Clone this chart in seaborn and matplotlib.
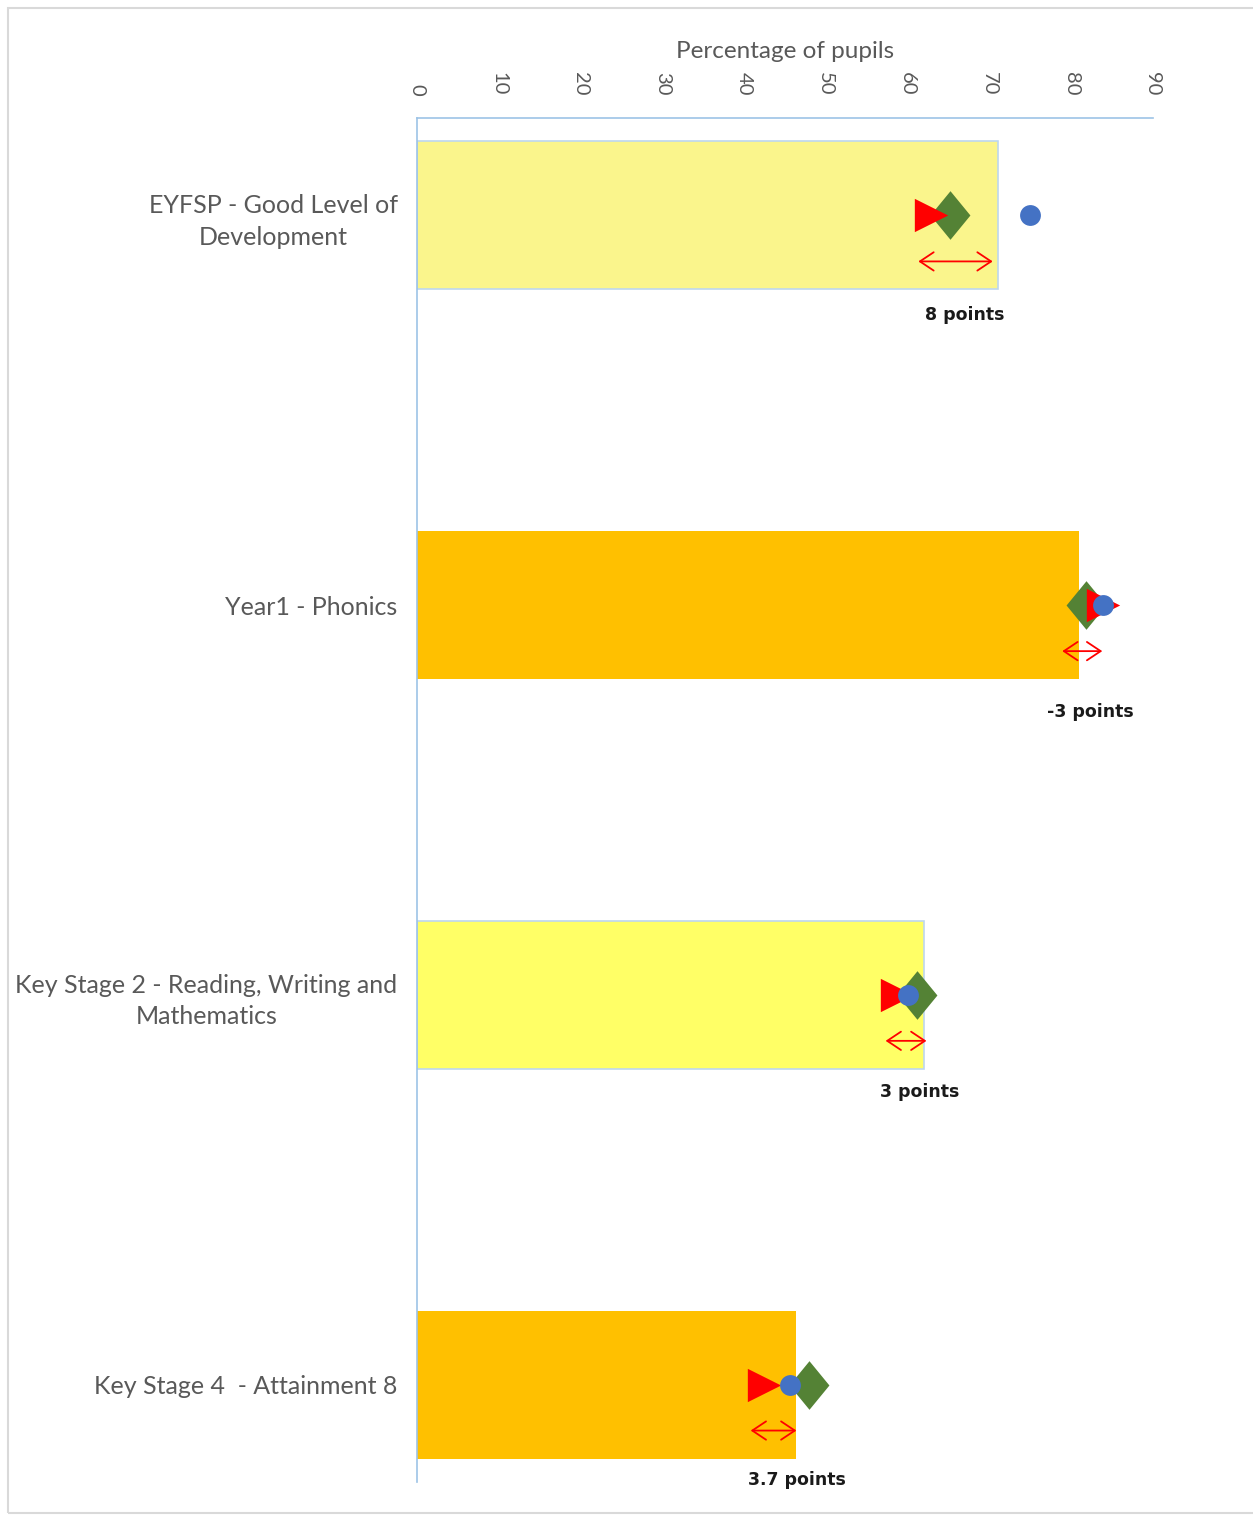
import numpy as np
import pandas as pd
import matplotlib
matplotlib.use("Agg")
import matplotlib.pyplot as plt
from matplotlib.patches import Rectangle
import seaborn as sns

# ---- data ----
categories = ["EYFSP - Good Level of\nDevelopment", "Year1 - Phonics",
              "Key Stage 2 - Reading, Writing and\nMathematics", "Key Stage 4  - Attainment 8"]
bar_values = [71.0, 81.0, 62.0, 46.3]
triangle_values = [62.8, 83.9, 58.7, 42.4]
diamond_values = [65.2, 81.8, 61.1, 47.9]
circle_values = [75.0, 83.9, 60.0, 45.6]
arrow_start = [61.3, 78.9, 57.3, 40.8]
arrow_end = [70.4, 83.8, 62.3, 46.4]
gap_labels = ["8 points", "-3 points", "3 points", "3.7 points"]
gap_label_x = [67.0, 82.3, 61.5, 46.4]
x_ticks = [0, 10, 20, 30, 40, 50, 60, 70, 80, 90]

bar_colors = ["#FAF58C", "#FFC000", "#FFFF66", "#FFC000"]

sns.set_theme(style="white")
plt.rcParams['font.family'] = ['Lato', 'DejaVu Sans']

fig = plt.figure(figsize=(12.53, 15.15), dpi=100)
ax = fig.add_axes([417/1253, 1 - 1482/1515, (1153-417)/1253, (1482-118)/1515])

df = pd.DataFrame({"cat": categories, "val": bar_values})
sns.barplot(data=df, y="cat", x="val", hue="cat", palette=bar_colors,
            orient="h", width=0.38, legend=False, ax=ax, saturation=1)
for i, p in enumerate(ax.patches):
    if bar_colors[i] != "#FFC000":
        p.set_edgecolor("#BDD7EE")
        p.set_linewidth(1.2)
    else:
        p.set_linewidth(0)

diamond_marker = [(0, 1), (0.82, 0), (0, -1), (-0.82, 0), (0, 1)]

pos = np.arange(len(categories))
ax.scatter(diamond_values, pos, marker=diamond_marker, s=35**2, color="#548235", zorder=3, linewidths=0)
ax.scatter(triangle_values, pos, marker=">", s=24**2, color="#FF0000", zorder=4, linewidths=0)
ax.scatter(circle_values, pos, marker="o", s=15**2, color="#4472C4", zorder=5, linewidths=0)

label_offsets = [0.255, 0.275, 0.25, 0.245]
for i in range(len(categories)):
    ax.annotate("", xy=(arrow_end[i], pos[i] + 0.118), xytext=(arrow_start[i], pos[i] + 0.118),
                arrowprops=dict(arrowstyle="<->, head_length=0.45, head_width=0.3", color="#FF0000", lw=1.3,
                                mutation_scale=22, shrinkA=0, shrinkB=0), zorder=6)
    ax.text(gap_label_x[i], pos[i] + label_offsets[i], gap_labels[i], ha="center", va="center",
            fontsize=12.5, fontweight="bold", color="#1a1a1a", family=["DejaVu Sans"])

ax.set_xlim(0, 90)
ax.set_ylim(3.25, -0.25)
ax.set_xticks(x_ticks)
ax.xaxis.tick_top()
ax.xaxis.set_label_position("top")
ax.set_xlabel("Percentage of pupils", fontsize=17.5, color="#595959", labelpad=10)
ax.set_ylabel("")
ax.tick_params(axis="x", length=0, pad=16, labelsize=14.5, labelcolor="#595959", labelrotation=-90)
ax.tick_params(axis="y", length=0, pad=14, labelsize=18, labelcolor="#595959")
for lbl in ax.get_yticklabels():
    lbl.set_multialignment("center")
    lbl.set_linespacing(1.45)
for s in ["right", "bottom"]:
    ax.spines[s].set_visible(False)
for s in ["top", "left"]:
    ax.spines[s].set_color("#9DC3E6")
    ax.spines[s].set_linewidth(1.2)
ax.grid(False)

fig.patches.append(Rectangle((8/1253, 2/1515), 1.0, 1 - 10/1515, transform=fig.transFigure,
                             fill=False, edgecolor="#D9D9D9", linewidth=1.5, zorder=0))

fig.savefig("out.png", dpi=100)
